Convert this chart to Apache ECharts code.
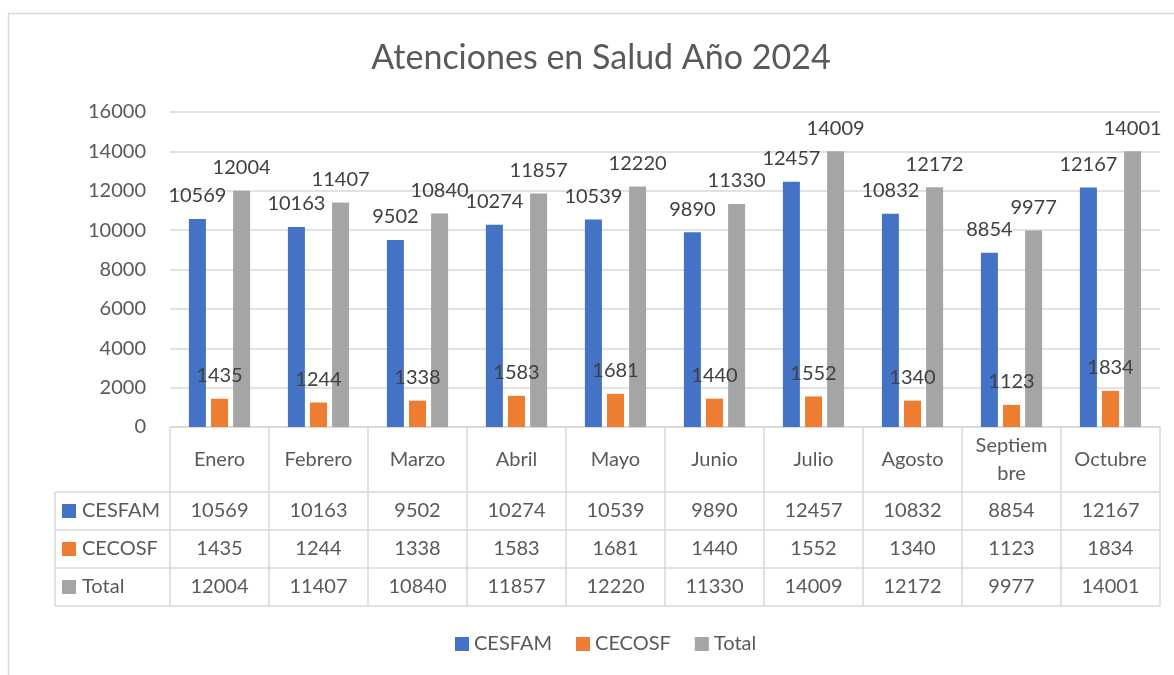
<!DOCTYPE html>
<html>
<head>
<meta charset="utf-8">
<title>Atenciones en Salud Año 2024</title>
<script src="https://cdn.jsdelivr.net/npm/echarts@6/dist/echarts.min.js"></script>
<style>
  html, body { margin: 0; padding: 0; background: #fff; }
  #chart { width: 1174px; height: 675px; }
</style>
</head>
<body>
<div id="chart"></div>
<script>
// data
const months = ['Enero', 'Febrero', 'Marzo', 'Abril', 'Mayo', 'Junio', 'Julio', 'Agosto', 'Septiembre', 'Octubre']
const cesfam = [10569, 10163, 9502, 10274, 10539, 9890, 12457, 10832, 8854, 12167]
const cecosf = [1435, 1244, 1338, 1583, 1681, 1440, 1552, 1340, 1123, 1834]
const total = [12004, 11407, 10840, 11857, 12220, 11330, 14009, 12172, 9977, 14001]
const seriesNames = ['CESFAM', 'CECOSF', 'Total']
const seriesColors = ['#4472C4', '#ED7D31', '#A5A5A5']

// layout
const W = 1174, H = 675
const gridLeft = 170, gridRight = 14, gridTop = 112, gridBottom = 248
const headH = 65, rowH = 38
const keyLeft = 55
const axisY = H - gridBottom
const font = 'Lato, "Open Sans", sans-serif'
const textColor = '#595959'
const lineColor = '#d9d9d9'

const chart = echarts.init(document.getElementById('chart'))

const seriesData = [cesfam, cecosf, total]

// one extra x axis per table row, the values are its labels
const rowAxes = seriesData.map((vals, i) => ({
  type: 'category',
  gridIndex: 0,
  position: 'bottom',
  offset: headH + rowH * i,
  data: vals.map(String),
  axisLine: { show: true, lineStyle: { color: lineColor, width: 1.5 } },
  axisTick: { show: false },
  axisLabel: { margin: rowH / 2, verticalAlign: 'middle', fontSize: 20, color: textColor, fontFamily: font, interval: 0 }
}))

const bottomAxis = {
  type: 'category',
  gridIndex: 0,
  position: 'bottom',
  offset: headH + rowH * 3,
  data: months,
  axisLine: { show: true, lineStyle: { color: lineColor, width: 1.5 } },
  axisTick: { show: false },
  axisLabel: { show: false }
}

// legend key column at the left of the table
const keyGraphics = []
const tableTop = axisY + headH
const tableBottom = tableTop + rowH * 3
for (let r = 0; r <= 3; r++) {
  keyGraphics.push({
    type: 'line',
    shape: { x1: keyLeft, y1: tableTop + rowH * r, x2: gridLeft, y2: tableTop + rowH * r },
    style: { stroke: lineColor, lineWidth: 1.5 }
  })
}
keyGraphics.push({
  type: 'line',
  shape: { x1: keyLeft, y1: tableTop, x2: keyLeft, y2: tableBottom },
  style: { stroke: lineColor, lineWidth: 1.5 }
})
seriesNames.forEach((name, i) => {
  const cy = tableTop + rowH * i + rowH / 2
  keyGraphics.push({
    type: 'rect',
    shape: { x: 62, y: cy - 7, width: 14, height: 14 },
    style: { fill: seriesColors[i] }
  })
  keyGraphics.push({
    type: 'text',
    x: 82, y: cy,
    style: { text: name, fill: textColor, font: '20px ' + font, verticalAlign: 'middle', align: 'left' }
  })
})
// outer chart border
keyGraphics.push({
  type: 'rect',
  shape: { x: 8.5, y: 13.5, width: W + 20, height: H + 20 },
  style: { fill: 'none', stroke: lineColor, lineWidth: 1.5 },
  z: -1
})

const option = {
  animation: false,
  color: seriesColors,
  title: {
    text: 'Atenciones en Salud Año 2024',
    left: 596,
    textAlign: 'center',
    top: 36,
    textStyle: { fontSize: 34, fontWeight: 'normal', color: textColor, fontFamily: font }
  },
  legend: {
    bottom: 16,
    left: 450,
    itemWidth: 14,
    itemHeight: 14,
    itemGap: 24,
    icon: 'rect',
    textStyle: { fontSize: 20, color: textColor, fontFamily: font }
  },
  grid: { left: gridLeft, right: gridRight, top: gridTop, bottom: gridBottom, containLabel: false },
  xAxis: [
    {
      type: 'category',
      data: months,
      axisLine: { show: true, lineStyle: { color: lineColor, width: 1.5 } },
      axisTick: { show: true, length: headH + rowH * 3, lineStyle: { color: lineColor, width: 1.5 } },
      axisLabel: {
        margin: headH / 2,
        verticalAlign: 'middle',
        fontSize: 20,
        lineHeight: 28,
        color: textColor,
        fontFamily: font,
        interval: 0,
        width: 78,
        overflow: 'breakAll'
      }
    },
    ...rowAxes,
    bottomAxis
  ],
  yAxis: {
    type: 'value',
    min: 0,
    max: 16000,
    interval: 2000,
    axisLine: { show: false },
    axisTick: { show: false },
    axisLabel: { margin: 24, fontSize: 20, color: textColor, fontFamily: font, formatter: v => String(v) },
    splitLine: { lineStyle: { color: lineColor, width: 1.5 } }
  },
  series: seriesNames.map((name, i) => ({
    name,
    type: 'bar',
    xAxisIndex: 0,
    data: seriesData[i],
    barWidth: 17,
    barGap: '30%',
    label: {
      show: true,
      position: 'top',
      distance: 13,
      fontSize: 20,
      color: '#404040',
      fontFamily: font
    }
  })),
  graphic: keyGraphics
}

chart.setOption(option)
</script>
</body>
</html>
